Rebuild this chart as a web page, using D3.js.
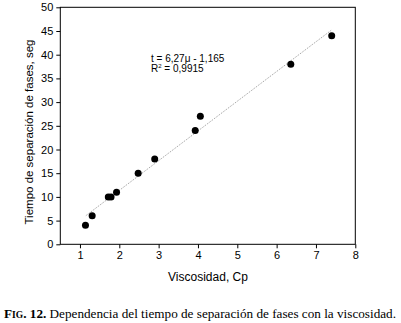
<!DOCTYPE html>
<html><head><meta charset="utf-8">
<script src="https://cdn.jsdelivr.net/npm/d3@7"></script>
<style>body{margin:0;background:#fff;} svg{display:block;}</style>
</head><body>
<svg id="c" width="401" height="323"></svg>
<script>
const viscosity = [1.14, 1.31, 1.72, 1.79, 1.93, 2.48, 2.90, 3.93, 4.06, 6.36, 7.40];
const time = [4, 6, 10, 10, 11, 15, 18, 24, 27, 38, 44];
const fitSlope = 6.27, fitIntercept = -1.165;
const fitRange = [1.15, 7.40];
const xTicks = [1, 2, 3, 4, 5, 6, 7, 8];
const yTicks = [0, 5, 10, 15, 20, 25, 30, 35, 40, 45, 50];

const svg = d3.select("#c");
const L = 60.3, R = 355.3, T = 7.3, B = 244.3;
const x = d3.scaleLinear().domain([0.5, 8]).range([L, R]);
const y = d3.scaleLinear().domain([0, 50]).range([B, T]);
const font = "Arial, 'Liberation Sans', sans-serif";

// frame
svg.append("rect").attr("x", L).attr("y", T).attr("width", R - L).attr("height", B - T)
  .attr("fill", "none").attr("stroke", "#000").attr("stroke-width", 1);

// x axis
const xa = svg.append("g").attr("transform", `translate(0,${B})`);
xa.call(d3.axisBottom(x).tickValues(d3.range(0.5, 8.01, 0.5)).tickSize(3).tickFormat(""))
  .call(g => g.select(".domain").remove());
xa.call(d3.axisBottom(x).tickValues(xTicks).tickSize(4).tickPadding(3).tickFormat(d3.format("d")))
  .call(g => g.selectAll(".domain").remove());
xa.selectAll("text").attr("font-family", font).attr("font-size", 11).attr("fill", "#000");
xa.selectAll("line").attr("stroke", "#000");

// y axis
const ya = svg.append("g").attr("transform", `translate(${L},0)`);
ya.call(d3.axisLeft(y).tickValues(d3.range(0, 50.01, 2.5)).tickSize(2.5).tickFormat(""))
  .call(g => g.select(".domain").remove());
ya.call(d3.axisLeft(y).tickValues(yTicks).tickSize(4).tickPadding(3).tickFormat(d3.format("d")))
  .call(g => g.selectAll(".domain").remove());
ya.selectAll("text").attr("font-family", font).attr("font-size", 11).attr("fill", "#000");
ya.selectAll("line").attr("stroke", "#000");

// fit line
svg.append("line")
  .attr("x1", x(fitRange[0])).attr("y1", y(fitSlope * fitRange[0] + fitIntercept))
  .attr("x2", x(fitRange[1])).attr("y2", y(fitSlope * fitRange[1] + fitIntercept))
  .attr("stroke", "#777").attr("stroke-width", 0.8).attr("stroke-dasharray", "1,1.2");

// points
svg.append("g").selectAll("circle").data(viscosity.map((v, i) => [v, time[i]])).join("circle")
  .attr("cx", d => x(d[0])).attr("cy", d => y(d[1])).attr("r", 3.5).attr("fill", "#000");

// annotation
const ann = svg.append("text").attr("font-family", font).attr("font-size", 10).attr("fill", "#000");
ann.append("tspan").attr("x", 151).attr("y", 61.5).text("t = 6,27μ - 1,165");
const r2 = svg.append("text").attr("font-family", font).attr("font-size", 10).attr("fill", "#000")
  .attr("x", 151).attr("y", 72);
r2.append("tspan").text("R");
r2.append("tspan").attr("font-size", 6).attr("dy", -4).text("2");
r2.append("tspan").attr("dy", 4).text(" = 0,9915");

// axis titles
svg.append("text").attr("x", 208).attr("y", 281).attr("text-anchor", "middle")
  .attr("font-family", font).attr("font-size", 12).text("Viscosidad, Cp");
svg.append("text").attr("transform", "translate(33,132) rotate(-90)").attr("text-anchor", "middle")
  .attr("font-family", font).attr("font-size", 11.5).text("Tiempo de separación de fases, seg");

// caption
const cap = svg.append("text").attr("x", 200).attr("y", 318).attr("text-anchor", "middle")
  .attr("font-family", "'Liberation Serif', 'Times New Roman', serif").attr("font-size", 13.2).attr("fill", "#000");
cap.append("tspan").attr("font-weight", "bold").text("F");
cap.append("tspan").attr("font-weight", "bold").attr("font-size", 9.5).text("IG");
cap.append("tspan").attr("font-weight", "bold").text(". 12.");
cap.append("tspan").text(" Dependencia del tiempo de separación de fases con la viscosidad.");
</script>
</body></html>
